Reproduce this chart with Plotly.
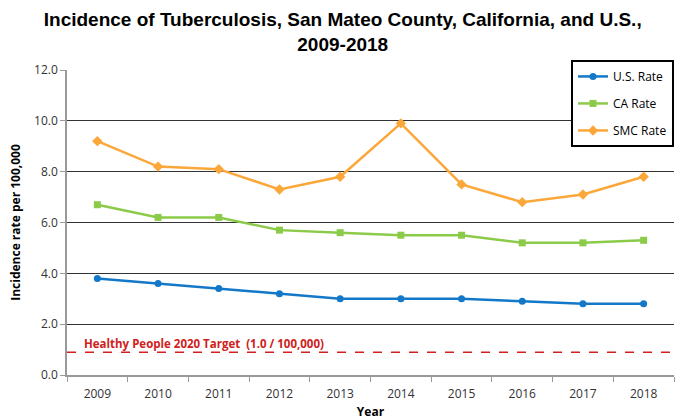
import plotly.graph_objects as go

years = ["2009", "2010", "2011", "2012", "2013", "2014", "2015", "2016", "2017", "2018"]
us_rate = [3.8, 3.6, 3.4, 3.2, 3.0, 3.0, 3.0, 2.9, 2.8, 2.8]
ca_rate = [6.7, 6.2, 6.2, 5.7, 5.6, 5.5, 5.5, 5.2, 5.2, 5.3]
smc_rate = [9.2, 8.2, 8.1, 7.3, 7.8, 9.9, 7.5, 6.8, 7.1, 7.8]
target = 0.9
y_ticks = [0, 2, 4, 6, 8, 10, 12]

fig = go.Figure()
fig.add_trace(go.Scatter(x=years, y=us_rate, name="U.S. Rate", mode="lines+markers",
                         line=dict(color="#1478C8", width=2.5),
                         marker=dict(symbol="circle", size=7, color="#1478C8"),
                         legendgroup="a"))
fig.add_trace(go.Scatter(x=years, y=ca_rate, name="CA Rate", mode="lines+markers",
                         line=dict(color="#8CCB4A", width=2.5),
                         marker=dict(symbol="square", size=7, color="#8CCB4A"),
                         legendgroup="b"))
fig.add_trace(go.Scatter(x=years, y=smc_rate, name="SMC Rate", mode="lines+markers",
                         line=dict(color="#FBA73A", width=2.5),
                         marker=dict(symbol="diamond", size=8, color="#FBA73A"),
                         legendgroup="c"))

fig.add_shape(type="line", xref="paper", yref="y", x0=0, x1=1, y0=target, y1=target,
              line=dict(color="#D02020", width=1.5, dash="dash"))
fig.add_annotation(xref="paper", yref="y", x=0.025, y=target, yshift=9,
                   text="<b>Healthy People 2020 Target  (1.0 / 100,000)</b>",
                   showarrow=False, xanchor="left",
                   font=dict(family="Open Sans", size=11.5, color="#D02020"))

fig.update_layout(
    width=676, height=420,
    margin=dict(l=67, r=2, t=70, b=45, autoexpand=False),
    paper_bgcolor="white", plot_bgcolor="white",
    title=dict(text="<b>Incidence of Tuberculosis, San Mateo County, California, and U.S.,<br>2009-2018</b>",
               x=0.507, xanchor="center", y=0.938, yanchor="top",
               font=dict(family="Liberation Sans", size=19, color="black")),
    font=dict(family="Open Sans", size=12, color="#333"),
    legend=dict(x=1.0, y=1.033, xanchor="right", yanchor="top",
                bordercolor="black", borderwidth=2, bgcolor="white",
                traceorder="grouped", tracegroupgap=8,
                font=dict(family="Open Sans", size=12, color="black")),
    showlegend=True,
)
fig.update_xaxes(type="category", range=[-0.5, 9.5], showgrid=False, automargin=False,
                 showline=True, linecolor="#999", linewidth=1.5,
                 ticks="outside", tickson="boundaries", ticklen=5, tickcolor="#999",
                 ticklabelstandoff=7,
                 title=dict(text="<b>Year</b>", standoff=8, font=dict(size=12, color="black")),
                 tickfont=dict(size=12, color="#333"))
fig.update_yaxes(range=[0, 12], tickvals=y_ticks, tickformat=".1f", automargin=False,
                 showgrid=True, gridcolor="#333", gridwidth=1,
                 showline=True, linecolor="#999", linewidth=1.5,
                 ticks="outside", ticklen=5, tickcolor="#999", zeroline=False,
                 title=dict(text="<b>Incidence rate per 100,000</b>", standoff=11,
                            font=dict(size=12, color="black")),
                 tickfont=dict(size=12, color="#333"))

fig.write_html("out.html", config={"displayModeBar": False},
               post_script="document.body.style.margin='0';")
